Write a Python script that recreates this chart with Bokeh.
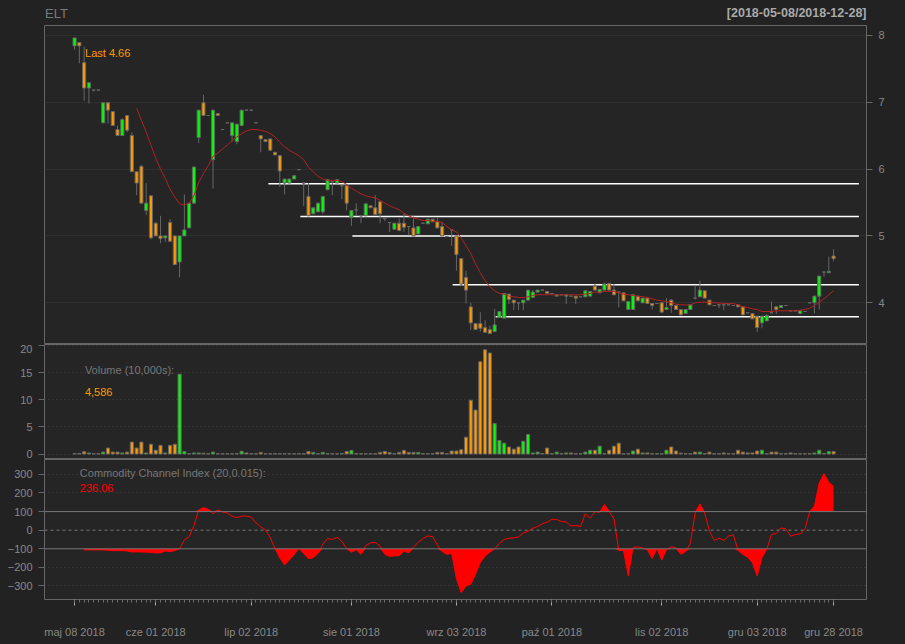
import numpy as np
import pandas as pd
from bokeh.plotting import figure
from bokeh.layouts import column
from bokeh.models import Range1d, FixedTicker, Label, Span, ColumnDataSource
from bokeh.core.properties import value
from bokeh.embed import file_html
from bokeh.resources import INLINE

# ---------------- data ----------------
symbol = "ELT"
period_text = "[2018-05-08/2018-12-28]"
closed_days = ["2018-05-31", "2018-06-11", "2018-07-16", "2018-08-15", "2018-11-01",
               "2018-11-12", "2018-12-24", "2018-12-25", "2018-12-26"]
dates = [d.strftime("%Y-%m-%d") for d in pd.bdate_range("2018-05-08", "2018-12-28")
         if d.strftime("%Y-%m-%d") not in closed_days]

tick_dates = ["2018-05-08", "2018-06-01", "2018-07-02", "2018-08-01", "2018-09-03",
              "2018-10-01", "2018-11-02", "2018-12-03", "2018-12-28"]
tick_labels = ["maj 08 2018", "cze 01 2018", "lip 02 2018", "sie 01 2018", "wrz 03 2018",
               "paź 01 2018", "lis 02 2018", "gru 03 2018", "gru 28 2018"]

opens = [7.84, 7.89, 7.59, 7.21, 7.18, 7.18, 6.69, 6.99, 6.86, 6.59,
         6.50, 6.80, 6.50, 5.96, 6.04, 5.38, 5.60, 5.19, 5.00, 4.97,
         5.20, 5.00, 4.61, 5.00, 5.12, 5.49, 6.47, 6.99, 6.80, 6.14,
         6.83, 6.59, 6.69, 6.50, 6.41, 6.65, 6.88, 6.88, 6.69, 6.50,
         6.44, 6.45, 6.25, 6.20, 5.79, 5.79, 5.85, 5.99, 5.79, 5.59,
         5.33, 5.36, 5.36, 5.69, 5.81, 5.79, 5.75, 5.75, 5.28, 5.39,
         5.30, 5.30, 5.45, 5.42, 5.51, 5.26, 5.20, 5.10, 5.19, 5.19,
         5.14, 5.12, 5.03, 5.19, 5.18, 5.25, 5.21, 5.14, 4.99, 5.09,
         5.00, 4.66, 4.38, 3.94, 3.69, 3.69, 3.63, 3.60, 3.57, 3.78,
         3.77, 4.13, 4.04, 4.00, 4.00, 4.04, 4.08, 4.16, 4.19, 4.17,
         4.14, 4.10, 4.12, 4.10, 4.10, 4.10, 4.09, 4.09, 4.10, 4.25,
         4.15, 4.19, 4.29, 4.19, 4.16, 4.15, 3.90, 3.90, 4.10, 4.00,
         4.07, 3.99, 3.99, 4.00, 3.90, 4.04, 3.96, 3.90, 3.84, 3.90,
         4.07, 4.09, 4.18, 4.04, 3.96, 3.97, 3.97, 3.97, 3.96, 3.97,
         3.94, 3.85, 3.84, 3.80, 3.70, 3.73, 3.85, 3.94, 3.93, 3.96,
         3.88, 3.88, 3.84, 3.87, 4.00, 4.00, 4.10, 4.46, 4.45, 4.70]
highs = [7.96, 7.89, 7.83, 7.29, 7.18, 7.18, 6.99, 6.99, 6.86, 6.65,
         6.76, 6.80, 6.55, 5.96, 6.06, 5.79, 5.60, 5.21, 5.30, 5.00,
         5.25, 5.00, 5.00, 5.62, 5.49, 6.03, 6.88, 7.11, 6.80, 6.88,
         6.83, 6.59, 6.69, 6.69, 6.67, 6.88, 6.88, 6.88, 6.69, 6.50,
         6.44, 6.45, 6.25, 6.20, 5.85, 5.85, 5.90, 5.99, 5.79, 5.79,
         5.42, 5.49, 5.59, 5.84, 5.81, 5.84, 5.75, 5.75, 5.38, 5.49,
         5.30, 5.48, 5.45, 5.61, 5.51, 5.26, 5.20, 5.19, 5.26, 5.33,
         5.14, 5.29, 5.14, 5.19, 5.25, 5.25, 5.28, 5.21, 4.99, 5.09,
         5.00, 4.66, 4.48, 4.00, 3.69, 3.86, 3.74, 3.66, 3.91, 3.87,
         4.14, 4.13, 4.04, 4.00, 4.04, 4.19, 4.19, 4.19, 4.19, 4.17,
         4.14, 4.12, 4.12, 4.12, 4.10, 4.10, 4.09, 4.18, 4.17, 4.29,
         4.20, 4.30, 4.30, 4.28, 4.16, 4.15, 4.02, 4.12, 4.10, 4.07,
         4.07, 3.99, 3.99, 4.00, 4.07, 4.05, 3.96, 3.90, 3.90, 3.97,
         4.26, 4.33, 4.18, 4.04, 3.96, 3.97, 3.97, 3.97, 3.96, 3.97,
         3.94, 3.85, 3.84, 3.80, 3.80, 3.83, 4.02, 3.94, 3.96, 3.96,
         3.88, 3.88, 3.88, 3.87, 4.00, 4.10, 4.40, 4.46, 4.69, 4.80]
lows = [7.78, 7.58, 7.02, 6.98, 7.16, 7.18, 6.69, 6.68, 6.65, 6.50,
        6.50, 6.55, 5.96, 5.61, 5.49, 5.31, 4.95, 5.00, 4.89, 4.91,
        4.92, 4.57, 4.38, 5.00, 5.12, 5.49, 6.39, 6.80, 6.80, 5.71,
        6.80, 6.59, 6.69, 6.41, 6.37, 6.65, 6.88, 6.88, 6.69, 6.25,
        6.41, 6.28, 6.21, 5.73, 5.62, 5.79, 5.85, 5.99, 5.45, 5.30,
        5.33, 5.36, 5.33, 5.69, 5.61, 5.79, 5.55, 5.38, 5.15, 5.30,
        5.19, 5.30, 5.42, 5.32, 5.19, 5.22, 5.06, 5.10, 5.08, 5.06,
        5.01, 5.00, 5.03, 5.19, 5.18, 5.21, 5.12, 5.00, 4.99, 4.85,
        4.48, 4.25, 3.99, 3.59, 3.60, 3.57, 3.56, 3.54, 3.57, 3.78,
        3.77, 3.98, 3.89, 3.89, 3.89, 4.04, 4.08, 4.16, 4.19, 4.14,
        4.14, 4.10, 4.12, 3.98, 4.10, 3.98, 4.09, 4.09, 4.10, 4.19,
        4.15, 4.19, 4.19, 4.12, 3.93, 4.03, 3.90, 3.90, 4.03, 4.00,
        3.99, 3.90, 3.99, 3.86, 3.90, 3.85, 3.90, 3.82, 3.84, 3.90,
        4.05, 4.09, 4.07, 3.97, 3.96, 3.92, 3.89, 3.97, 3.96, 3.94,
        3.82, 3.85, 3.76, 3.56, 3.62, 3.73, 3.85, 3.83, 3.93, 3.96,
        3.88, 3.88, 3.84, 3.87, 4.00, 3.84, 3.90, 4.39, 4.45, 4.62]
closes = [7.96, 7.84, 7.21, 7.29, 7.18, 7.18, 6.99, 6.88, 6.65, 6.50,
          6.74, 6.58, 5.96, 5.79, 5.49, 5.49, 4.97, 5.00, 4.96, 5.00,
          4.92, 4.57, 5.00, 5.09, 5.49, 6.03, 6.88, 6.80, 6.80, 6.88,
          6.80, 6.59, 6.69, 6.69, 6.67, 6.88, 6.88, 6.88, 6.69, 6.45,
          6.41, 6.28, 6.21, 5.97, 5.85, 5.85, 5.90, 5.99, 5.79, 5.30,
          5.42, 5.49, 5.59, 5.84, 5.81, 5.84, 5.75, 5.49, 5.38, 5.39,
          5.30, 5.48, 5.42, 5.32, 5.33, 5.26, 5.20, 5.19, 5.08, 5.13,
          5.14, 5.00, 5.14, 5.19, 5.25, 5.21, 5.12, 5.00, 4.99, 5.09,
          4.72, 4.28, 4.19, 3.70, 3.60, 3.62, 3.56, 3.54, 3.67, 3.87,
          4.14, 4.05, 4.00, 4.00, 4.04, 4.19, 4.16, 4.19, 4.19, 4.14,
          4.14, 4.12, 4.12, 4.12, 4.10, 4.07, 4.09, 4.18, 4.17, 4.19,
          4.20, 4.28, 4.19, 4.12, 4.16, 4.03, 4.02, 4.12, 4.03, 4.07,
          3.99, 3.96, 3.99, 3.86, 3.93, 3.96, 3.90, 3.82, 3.90, 3.97,
          4.07, 4.19, 4.07, 3.97, 3.96, 3.97, 3.97, 3.97, 3.96, 3.94,
          3.82, 3.85, 3.76, 3.63, 3.80, 3.81, 3.85, 3.90, 3.96, 3.96,
          3.88, 3.88, 3.88, 3.87, 4.00, 4.10, 4.40, 4.46, 4.47, 4.66]

# volume in 10,000s of shares
volume = [0.10, 0.10, 0.42, 0.20, 0.05, 0.05, 0.35, 1.10, 0.35, 0.35,
          0.20, 0.35, 2.20, 1.10, 2.20, 0.20, 1.80, 0.70, 1.60, 0.20,
          1.60, 1.80, 14.70, 0.45, 0.05, 0.20, 0.20, 0.15, 0.05, 0.35,
          0.05, 0.05, 0.05, 0.05, 0.05, 0.50, 0.20, 0.05, 0.05, 0.30,
          0.05, 0.05, 0.05, 0.05, 0.05, 0.05, 0.05, 0.05, 0.05, 0.48,
          0.30, 0.05, 0.30, 0.05, 0.05, 0.05, 0.10, 0.48, 0.66, 0.05,
          0.05, 0.05, 0.05, 0.05, 0.30, 0.48, 0.25, 0.05, 0.30, 0.66,
          0.30, 0.30, 0.30, 0.05, 0.05, 0.05, 0.30, 0.30, 0.05, 0.55,
          0.55, 0.80, 3.10, 9.90, 8.10, 17.00, 19.20, 18.60, 5.60, 2.50,
          2.00, 1.30, 0.90, 1.30, 2.35, 3.60, 0.20, 0.35, 0.10, 1.10,
          0.05, 0.35, 0.10, 0.20, 0.20, 0.05, 0.05, 0.35, 0.70, 0.70,
          1.45, 0.05, 0.70, 1.45, 2.00, 0.05, 0.05, 0.55, 0.90, 0.20,
          0.20, 0.05, 0.05, 0.05, 0.70, 1.30, 0.55, 0.15, 0.05, 0.05,
          0.35, 0.35, 0.10, 0.35, 0.05, 0.05, 0.20, 0.05, 0.05, 0.70,
          0.35, 0.20, 0.20, 0.55, 0.70, 0.05, 0.35, 0.35, 0.05, 0.05,
          0.20, 0.05, 0.05, 0.05, 0.05, 0.20, 0.70, 0.10, 0.45, 0.4586]

nan = float("nan")
sma = [nan] * 13 + [
    6.91, 6.73, 6.55, 6.36, 6.16, 6.00, 5.86, 5.70, 5.58, 5.48,
    5.46, 5.49, 5.60, 5.80, 5.93, 6.05, 6.19, 6.24, 6.30, 6.36,
    6.42, 6.48, 6.53, 6.57, 6.59, 6.59, 6.58, 6.56, 6.53, 6.48,
    6.40, 6.33, 6.28, 6.24, 6.20, 6.14, 6.03, 5.96, 5.89, 5.85,
    5.83, 5.83, 5.83, 5.81, 5.77, 5.71, 5.67, 5.63, 5.60, 5.58,
    5.57, 5.53, 5.49, 5.45, 5.42, 5.39, 5.34, 5.30, 5.27, 5.25,
    5.23, 5.23, 5.22, 5.22, 5.20, 5.14, 5.09, 5.06, 4.97, 4.85,
    4.74, 4.58, 4.45, 4.33, 4.24, 4.18, 4.14, 4.13, 4.10, 4.09,
    4.08, 4.08, 4.09, 4.11, 4.12, 4.12, 4.12, 4.12, 4.12, 4.12,
    4.12, 4.12, 4.12, 4.12, 4.13, 4.14, 4.16, 4.16, 4.17, 4.17,
    4.17, 4.15, 4.13, 4.12, 4.11, 4.10, 4.09, 4.08, 4.06, 4.04,
    4.03, 4.02, 4.00, 3.98, 3.97, 3.97, 3.97, 4.00, 4.01, 4.01,
    4.01, 4.00, 4.00, 3.99, 3.99, 3.99, 3.97, 3.94, 3.93, 3.91,
    3.90, 3.87, 3.87, 3.87, 3.88, 3.88, 3.88, 3.88, 3.88, 3.89,
    3.90, 3.92, 3.96, 4.01, 4.06, 4.12, 4.18]

cci = [nan, nan, -106, -106, -106, -106, -106, -108, -110, -110,
       -110, -112, -117, -117, -117, -118, -120, -122, -122, -112,
       -115, -110, -100, -52, -35, 25, 108, 122, 112, 88,
       108, 98, 92, 75, 68, 76, 76, 70, 40, 18,
       2, -40, -100, -150, -187, -160, -132, -97, -125, -153,
       -148, -125, -75, -45, -50, -38, -60, -100, -119, -105,
       -130, -83, -68, -66, -85, -130, -141, -138, -137, -112,
       -122, -90, -65, -45, -30, -35, -80, -115, -130, -125,
       -260, -336, -300, -291, -237, -175, -140, -118, -100, -70,
       -50, -43, -41, -36, -15, -5, 10, 20, 35, 43,
       59, 58, 46, 44, 22, 25, 20, 89, 64, 100,
       96, 138, 102, 60, -109, -110, -246, -92, -90, -96,
       -105, -152, -100, -161, -105, -89, -95, -130, -115, -70,
       93, 141, 93, -5, -55, -43, -55, -32, -25, -109,
       -130, -145, -175, -246, -148, -104, -23, -18, 12, 7,
       -32, -23, -20, 4, 102, 130, 254, 304, 257, 236.06]

# support / resistance levels and the bar position where each starts
level_values = [5.78, 5.29, 5.00, 4.27, 3.79]
level_starts = [40.6, 47.3, 58.2, 79.2, 88.2]
level_end = 164.3

# ---------------- styling ----------------
FONT = "Liberation Sans"
BG = "#222222"
AREA = "#252525"
FG = "#888888"
BORDER = "#666666"
UP = "#00FF00"
DN = "#FF9900"

n = len(closes)
xs = list(range(n))
colors = [UP if c > o else DN for o, c in zip(opens, closes)]

src = ColumnDataSource(dict(
    x=xs, open=opens, high=highs, low=lows, close=closes,
    top=[max(o, c) for o, c in zip(opens, closes)],
    bottom=[min(o, c) for o, c in zip(opens, closes)],
    color=colors, vol=volume,
))

xr = Range1d(-6.3, 165.9)
W = 905
FRAME_L, FRAME_R = 44, 866


def base_fig(h, ylo, yhi, **kw):
    f = figure(width=W, height=h, x_range=xr, y_range=Range1d(ylo, yhi),
               output_backend="svg", toolbar_location=None,
               background_fill_color=AREA, border_fill_color=BG,
               outline_line_color=BORDER, min_border_left=FRAME_L,
               min_border_right=W - FRAME_R, **kw)
    f.xgrid.grid_line_color = None
    return f


def style_yaxis(ax, ticks):
    ax.ticker = FixedTicker(ticks=ticks)
    ax.axis_line_color = None
    ax.major_tick_line_color = BORDER
    ax.major_tick_out = 6
    ax.major_tick_in = 0
    ax.minor_tick_line_color = None
    ax.major_label_text_color = FG
    ax.major_label_text_font = FONT
    ax.major_label_text_font_size = "11px"
    ax.major_label_text_line_height = 1.0
    ax.major_label_standoff = 6


def lab(x, y, text, color, size="11px", align="left", style="normal"):
    return Label(x=x, y=y, text=text, text_color=color, text_font=FONT,
                 text_font_size=size, text_font_style=style,
                 text_align=align, text_baseline="middle")


# ---- header strip (symbol and period); its frame is aligned with the panels ----
p0 = figure(width=W, height=25, x_range=Range1d(FRAME_L, FRAME_R), y_range=Range1d(25, 0),
            output_backend="svg", toolbar_location=None,
            x_axis_location=None, y_axis_location=None,
            background_fill_color=BG, border_fill_color=BG, outline_line_color=None,
            min_border_left=FRAME_L, min_border_right=W - FRAME_R,
            min_border_top=0, min_border_bottom=0)
p0.grid.grid_line_color = None
p0.text(x=[FRAME_L + 0.5], y=[12.5], text=[symbol], text_color="#7a7a7a", text_font=value(FONT),
        text_font_size="13px", text_align="left", text_baseline="middle")
p0.text(x=[FRAME_R], y=[12.5], text=[period_text], text_color="#aaaaaa", text_font=value(FONT),
        text_font_size="12.5px", text_font_style="bold",
        text_align="right", text_baseline="middle")

# ---- price panel ----
p1 = base_fig(319, 3.377, 8.145, x_axis_location=None, y_axis_location="right",
              min_border_top=0, min_border_bottom=0)
style_yaxis(p1.yaxis[0], [4, 5, 6, 7, 8])
p1.ygrid.ticker = FixedTicker(ticks=[4, 5, 6, 7, 8])
p1.ygrid.grid_line_color = "#303030"

p1.segment(x0=level_starts, y0=level_values,
           x1=[level_end] * len(level_values), y1=level_values,
           line_color="white", line_width=1.5)
p1.segment("x", "high", "x", "low", source=src, line_color=BORDER, line_width=1)
p1.vbar(x="x", width=0.65, top="top", bottom="bottom", source=src,
        fill_color="color", line_color=BORDER, line_width=1)
p1.line(xs, sma, line_color="#B22222", line_width=1)
p1.add_layout(lab(2.2, 7.73, "Last %.2f" % closes[-1], DN))

# ---- volume panel ----
p2 = base_fig(115, -1.01, 20.17, x_axis_location=None, y_axis_location="left",
              min_border_top=0, min_border_bottom=0)
style_yaxis(p2.yaxis[0], [0, 5, 10, 15, 20])
p2.ygrid.ticker = FixedTicker(ticks=[0, 5, 10, 15, 20])
p2.ygrid.grid_line_color = "#404040"
p2.ygrid.grid_line_dash = "1 3"
p2.vbar(x="x", width=0.65, top="vol", bottom=0, source=src,
        fill_color="color", line_color=BORDER, line_width=1)
p2.add_layout(lab(2.16, 15.4, "Volume (10,000s):", "#777777"))
p2.add_layout(lab(2.16, 11.35, f"{round(volume[-1] * 10000):,}", DN))

# ---- CCI panel ----
p3 = base_fig(185, -372.6, 380, y_axis_location="left",
              min_border_top=0, min_border_bottom=45)
style_yaxis(p3.yaxis[0], [-300, -200, -100, 0, 100, 200, 300])
p3.ygrid.ticker = FixedTicker(ticks=[-300, -200, 200, 300])
p3.ygrid.grid_line_color = "#404040"
p3.ygrid.grid_line_dash = "1 3"
p3.add_layout(Span(location=100, dimension="width", line_color="#777777", line_width=1))
p3.add_layout(Span(location=-100, dimension="width", line_color="#777777", line_width=1))
p3.add_layout(Span(location=0, dimension="width", line_color="#777777", line_width=1,
                   line_dash="3 3"))

valid = [i for i in xs if not np.isnan(cci[i])]
cv = np.array([cci[i] for i in valid])
p3.varea(x=valid, y1=np.full(len(valid), 100.0), y2=np.maximum(cv, 100), fill_color="#FF0000")
p3.varea(x=valid, y1=np.full(len(valid), -100.0), y2=np.minimum(cv, -100), fill_color="#FF0000")
p3.line(valid, cv, line_color="#FF0000", line_width=1)

p3.add_layout(lab(1.1, 308.6, "Commodity Channel Index (20,0.015):", "#777777"))
p3.add_layout(lab(1.1, 228, "%.2f" % cci[-1], "#FF0000"))

tick_idx = [dates.index(d) for d in tick_dates]
xa = p3.xaxis[0]
xa.ticker = FixedTicker(ticks=tick_idx, minor_ticks=xs)
xa.major_label_overrides = {i: t for i, t in zip(tick_idx, tick_labels)}
xa.axis_line_color = None
xa.major_tick_line_color = "#AAAAAA"
xa.major_tick_out = 6
xa.major_tick_in = 0
xa.minor_tick_line_color = "#6a6a6a"
xa.minor_tick_out = 3
xa.minor_tick_in = 0
xa.major_label_text_color = FG
xa.major_label_text_font = FONT
xa.major_label_text_font_size = "11px"
xa.major_label_standoff = 20

layout = column(p0, p1, p2, p3, spacing=0)

html = file_html(layout, INLINE, title="ELT")
html = html.replace("<head>", "<head><style>html,body{background:#222222;}</style>", 1)
with open("out.html", "w", encoding="utf-8") as fh:
    fh.write(html)
